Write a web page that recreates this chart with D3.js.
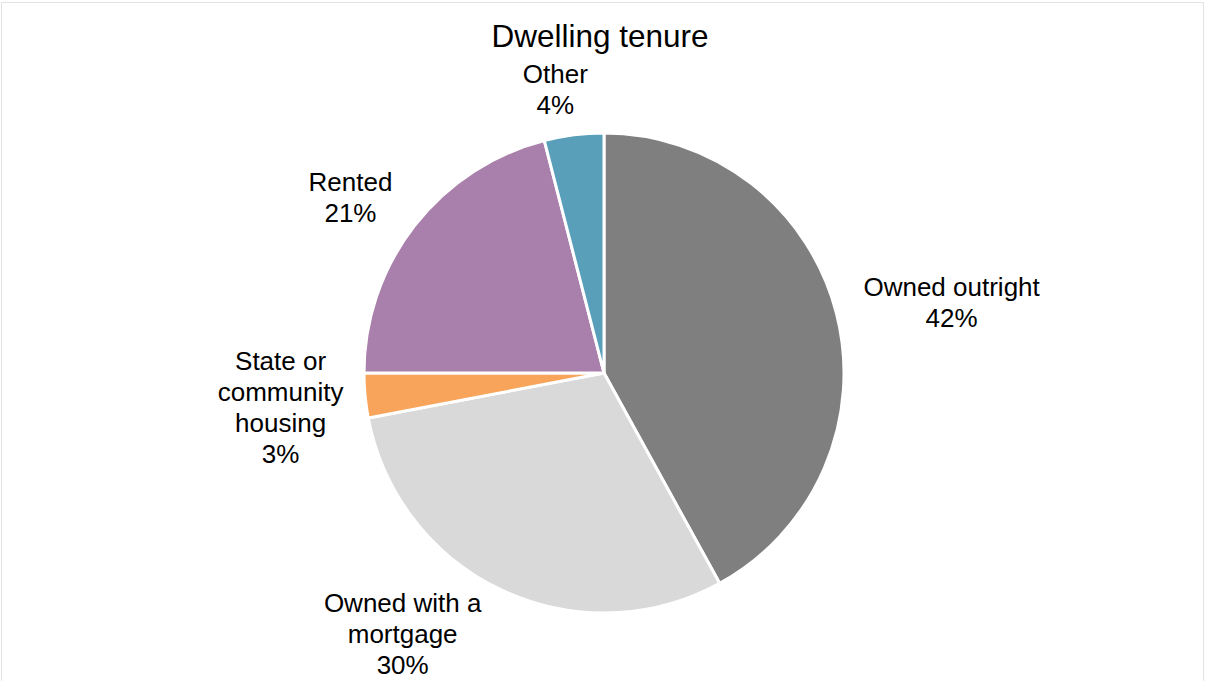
<!DOCTYPE html>
<html>
<head>
<meta charset="utf-8">
<script src="https://cdn.jsdelivr.net/npm/d3@7"></script>
<style>
  html, body { margin: 0; padding: 0; background: #ffffff; }
  svg { display: block; }
  text { font-family: "Liberation Sans", Arial, sans-serif; fill: #000; }
</style>
</head>
<body>
<svg id="chart" width="1208" height="681"></svg>
<script>
// Dwelling tenure shares (percent), clockwise from 12 o'clock
const categories = ["Owned outright", "Owned with a mortgage", "State or community housing", "Rented", "Other"];
const labelLines = [["Owned outright"], ["Owned with a", "mortgage"], ["State or", "community", "housing"], ["Rented"], ["Other"]];
const values = [42, 30, 3, 21, 4];
const colors = ["#7f7f7f", "#d9d9d9", "#f8a45a", "#a97fab", "#599fba"];
const title = "Dwelling tenure";

// Small per-label shifts away from the default outside position
const labelNudge = [[10, 2], [-57, -17], [-2, 4], [-15, 3], [-12, 5]];

const svg = d3.select("#chart");
const cx = 604, cy = 373, R = 240;

// faint frame
svg.append("rect")
  .attr("x", 1.5).attr("y", 2.5)
  .attr("width", 1202).attr("height", 700)
  .attr("fill", "none").attr("stroke", "#e3e3e3").attr("stroke-width", 1);

svg.append("text")
  .attr("x", 600).attr("y", 47)
  .attr("text-anchor", "middle")
  .style("font-size", "31.5px")
  .text(title);

const data = categories.map((c, i) => ({ name: c, value: values[i], lines: labelLines[i], color: colors[i], i }));

const pie = d3.pie().value(d => d.value).sort(null);
const arcs = pie(data);
const arc = d3.arc().innerRadius(0).outerRadius(R);

const g = svg.append("g").attr("transform", `translate(${cx},${cy})`);

g.selectAll("path.slice")
  .data(arcs)
  .join("path")
  .attr("class", "slice")
  .attr("d", arc)
  .attr("fill", d => d.data.color)
  .attr("stroke", "#ffffff")
  .attr("stroke-width", 3)
  .attr("stroke-linejoin", "round");

// outside labels: block edge sits a fixed gap beyond the rim along the mid-angle
const fs = 26, lh = 31, pad = 20;
arcs.forEach(a => {
  const d = a.data;
  const lines = d.lines.concat([d.value + "%"]);
  const t = g.append("text")
    .attr("text-anchor", "middle")
    .style("font-size", fs + "px");
  lines.forEach((ln, k) => {
    t.append("tspan").attr("x", 0).attr("y", (k - (lines.length - 1) / 2) * lh + fs * 0.358).text(ln);
  });
  const bb = t.node().getBBox();
  const w = bb.width, h = lines.length * lh;
  const mid = (a.startAngle + a.endAngle) / 2;
  const s = Math.sin(mid), c = Math.cos(mid);
  const x = (R + pad) * s + s * w / 2 + labelNudge[d.i][0];
  const y = -(R + pad) * c - c * h / 2 + labelNudge[d.i][1];
  t.attr("transform", `translate(${x},${y})`);
});
</script>
</body>
</html>
